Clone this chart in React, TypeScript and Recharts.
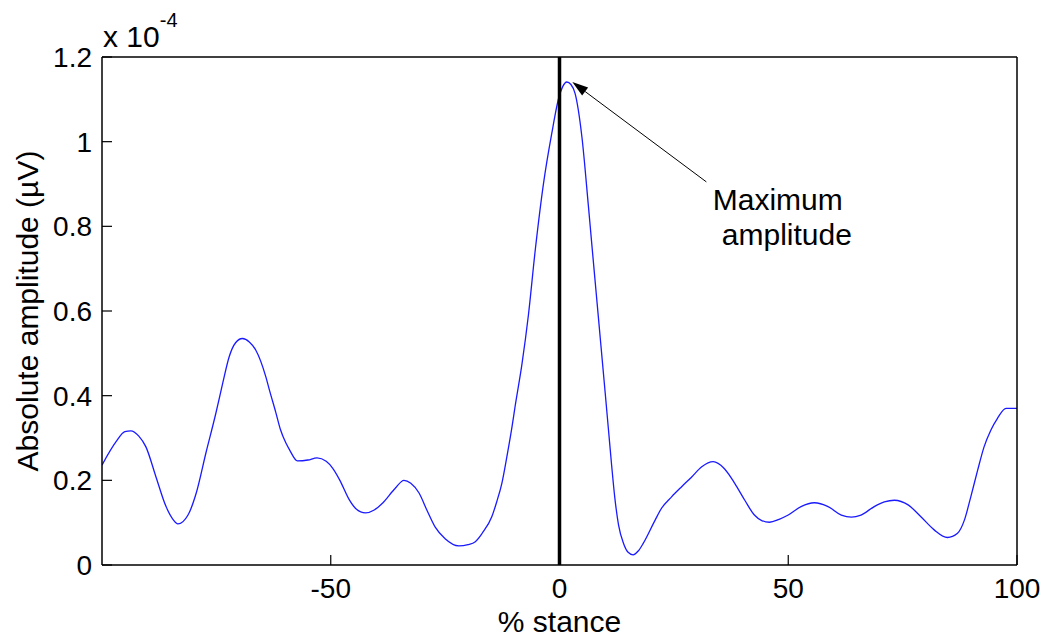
import { Line, LineChart, ReferenceDot, ReferenceLine, XAxis, YAxis } from "recharts";

// % stance (x) and absolute amplitude in units of 1e-4 µV (y)
const stance = [
  -100, -97, -95, -93.7, -92, -90.4, -88.2, -86, -84.5, -83.4, -81.2, -79.4, -77.3, -75.1, -73.6, -72.2,
  -70.8, -69.3, -67.8, -66.4, -64.2, -63.4, -62, -61, -59.8, -59, -57.3, -55, -53, -51, -49.6, -48, -46,
  -44.5, -42.4, -40.5, -38.7, -36, -34, -32.5, -30.7, -29, -27.2, -25, -22, -20, -18.4, -16.9, -14.8,
  -13.7, -12.6, -11.5, -10.4, -9.7, -8.2, -6.8, -5.3, -3.5, -1.7, -0.1, 0.7, 1.6, 2.5, 3.4, 4.9, 6.3, 7,
  8, 9, 10, 10.7, 11.4, 12.1, 12.9, 14, 15, 16.1, 17.2, 18.3, 20.9, 22.3, 24.5, 26.7, 28.9, 31.1, 33.6, 36,
  38.3, 40.5, 42.6, 44.2, 45.9, 48, 50, 52.8, 55.7, 58.7, 61.6, 63.8, 65.9, 68.8, 71, 73.2, 76.2, 79, 81.9,
  84.8, 87, 88.5, 89.9, 91.4, 92.8, 94.3, 95.7, 97.6, 100,
];
const amplitude = [
  0.236, 0.29, 0.315, 0.317, 0.305, 0.279, 0.208, 0.138, 0.108, 0.097, 0.118, 0.17, 0.264, 0.359, 0.43, 0.492,
  0.525, 0.535, 0.527, 0.508, 0.445, 0.413, 0.36, 0.32, 0.288, 0.272, 0.246, 0.248, 0.253, 0.245, 0.229, 0.2, 0.155,
  0.133, 0.123, 0.13, 0.146, 0.18, 0.2, 0.193, 0.17, 0.13, 0.09, 0.062, 0.045, 0.048, 0.055, 0.075, 0.114,
  0.15, 0.193, 0.256, 0.325, 0.375, 0.475, 0.59, 0.744, 0.901, 1.019, 1.106, 1.13, 1.141, 1.135, 1.114, 1.011, 0.85, 0.765,
  0.645, 0.525, 0.405, 0.32, 0.235, 0.158, 0.095, 0.051, 0.03, 0.024, 0.033, 0.051, 0.106, 0.134, 0.161, 0.185, 0.208, 0.232, 0.244, 0.228,
  0.193, 0.153, 0.118, 0.105, 0.101, 0.108, 0.118, 0.138, 0.147, 0.138, 0.118, 0.113, 0.118, 0.138, 0.149, 0.153, 0.142, 0.114, 0.083,
  0.065, 0.075, 0.106, 0.161, 0.224, 0.279, 0.319, 0.346, 0.37, 0.37,
];

const xTicks = [-50, 0, 50, 100];
const yTicks = [0, 0.2, 0.4, 0.6, 0.8, 1, 1.2];

const peak = { x: 2.8, y: 1.141 };
const arrowTail = { x: 32.1, y: 0.905 };
const noteLines = [
  { text: "Maximum", x: 47.7, y: 0.838 },
  { text: "amplitude", x: 49.7, y: 0.755 },
];

const font = '"Liberation Sans", Arial, sans-serif';

const data = stance.map((s, i) => ({ stance: s, amp: amplitude[i] }));

function Arrow(props: any) {
  const { x1, y1, x2, y2 } = props;
  const ang = Math.atan2(y2 - y1, x2 - x1);
  const len = 16;
  const half = 5;
  const bx = x2 - len * Math.cos(ang);
  const by = y2 - len * Math.sin(ang);
  const px = -Math.sin(ang) * half;
  const py = Math.cos(ang) * half;
  return (
    <g>
      <line x1={x1} y1={y1} x2={bx} y2={by} stroke="#000" strokeWidth={1} />
      <polygon points={`${x2},${y2} ${bx + px},${by + py} ${bx - px},${by - py}`} fill="#000" />
    </g>
  );
}

function yTitle(props: any) {
  const vb = props.viewBox;
  const cx = vb.x + 27;
  const cy = vb.y + vb.height / 2;
  return (
    <g>
      <text
        x={cx}
        y={cy}
        transform={`rotate(-90, ${cx}, ${cy})`}
        textAnchor="middle"
        dominantBaseline="central"
        fontSize={30}
        fontFamily={font}
        fill="#000"
      >
        Absolute amplitude (µV)
      </text>
      <text x={vb.x + vb.width + 1} y={vb.y - 10} fontSize={30} fontFamily={font} fill="#000">
        x 10
        <tspan dy={-20} fontSize={20}>
          -4
        </tspan>
      </text>
    </g>
  );
}

function xTitle(props: any) {
  const vb = props.viewBox;
  return (
    <text
      x={vb.x + vb.width / 2}
      y={vb.y + 67}
      textAnchor="middle"
      fontSize={30}
      fontFamily={font}
      fill="#000"
    >
      % stance
    </text>
  );
}

export default function App() {
  const axisLine = { stroke: "#000", strokeWidth: 1.5 };
  const tickLine = { stroke: "#000", strokeWidth: 1.2 };
  return (
    <div style={{ position: "absolute", left: 0, top: 0, background: "#fff" }}>
      <LineChart
        width={1048}
        height={641}
        data={data}
        margin={{ top: 56, right: 30, bottom: 0, left: 0 }}
        style={{ fontFamily: font }}
      >
        <XAxis
          dataKey="stance"
          type="number"
          domain={[-100, 100]}
          ticks={xTicks}
          allowDataOverflow
          height={76}
          axisLine={axisLine}
          tickLine={tickLine}
          tickSize={-10}
          tickMargin={23}
          tick={{ fontSize: 28, fill: "#000", fontFamily: font }}
          label={xTitle}
        />
        <XAxis
          xAxisId="top"
          orientation="top"
          dataKey="stance"
          type="number"
          domain={[-100, 100]}
          ticks={xTicks}
          allowDataOverflow
          height={1}
          axisLine={axisLine}
          tickLine={tickLine}
          tickSize={-10}
          tick={false}
        />
        <YAxis
          type="number"
          domain={[0, 1.2]}
          ticks={yTicks}
          allowDataOverflow
          width={102}
          axisLine={axisLine}
          tickLine={tickLine}
          tickSize={-10}
          tickMargin={20}
          tick={{ fontSize: 28, fill: "#000", fontFamily: font }}
          label={yTitle}
        />
        <YAxis
          yAxisId="right"
          orientation="right"
          type="number"
          domain={[0, 1.2]}
          ticks={yTicks}
          allowDataOverflow
          width={1}
          axisLine={axisLine}
          tickLine={tickLine}
          tickSize={-10}
          tick={false}
        />
        <Line
          type="monotone"
          dataKey="amp"
          stroke="#1a1aff"
          strokeWidth={1.3}
          dot={false}
          isAnimationActive={false}
        />
        <ReferenceLine x={0} stroke="#000" strokeWidth={3.5} />
        <ReferenceLine
          segment={[arrowTail, peak]}
          shape={Arrow}
          ifOverflow="visible"
        />
        {noteLines.map((n) => (
          <ReferenceDot
            key={n.text}
            x={n.x}
            y={n.y}
            r={0}
            ifOverflow="visible"
            shape={(p: any) => (
              <text
                x={p.cx}
                y={p.cy}
                textAnchor="middle"
                fontSize={30}
                fontFamily={font}
                fill="#000"
              >
                {n.text}
              </text>
            )}
          />
        ))}
      </LineChart>
    </div>
  );
}
